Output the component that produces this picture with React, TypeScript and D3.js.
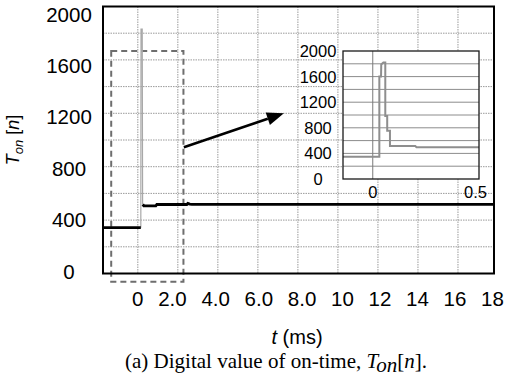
import React from 'react';
import * as d3 from 'd3';

// ---- data ----
const yTickValues = [0, 400, 800, 1200, 1600, 2000];
const yGridValues = [200, 400, 600, 800, 1000, 1200, 1400, 1600, 1800];
const xGridValues = [0, 2, 4, 6, 8, 10, 12, 14, 16];
const xTickLabels = ['0', '2.0', '4.0', '6.0', '8.0', '10', '12', '14', '16', '18'];
const insetYTicks = [0, 400, 800, 1200, 1600, 2000];
const insetYGrid = [200, 400, 600, 800, 1000, 1200, 1400, 1600, 1800];
const insetXTicks = [0, 0.5];

// main series (t in ms, value)
const mainBefore: [number, number][] = [[-1.74, 343], [0.15, 343]];
const mainSpike: [number, number][] = [[0.15, 343], [0.16, 1830], [0.22, 1830], [0.24, 518]];
const mainAfter: [number, number][] = [
  [0.25, 518], [0.3, 507], [0.9, 507], [0.95, 517], [2.45, 517], [2.5, 525], [2.6, 520], [2.7, 518], [17.8, 518],
];
// zoomed detail series
const insetSeries: [number, number][] = [
  [-0.14, 348], [0.031, 348], [0.031, 1600], [0.039, 1600], [0.04, 1790], [0.05, 1820], [0.059, 1820],
  [0.059, 985], [0.068, 985], [0.068, 755], [0.081, 755], [0.081, 515], [0.2, 515], [0.206, 495], [0.5, 495],
];
// annotation (data units of main chart)
const zoomBoxT = [-1.33, 2.28];
const zoomBoxV = [-61, 1667];
const arrowPts: [number, number][] = [[2.3, 945], [7.3, 1200]];

const W = 506, H = 390;
const M = { left: 103, right: 494, top: 6.5, bottom: 273.5 };
const INSET = { left: 343, top: 51, width: 136, height: 128 };

export default function App() {
  const x = d3.scaleLinear().domain([-1.74, 17.8]).range([M.left, M.right]);
  const y = d3.scaleLinear().domain([0, 2000]).range([M.bottom, M.top]);
  const yLabel = d3.scaleLinear().domain([0, 2000]).range([271, 14]);
  const line = d3.line<[number, number]>().x(d => x(d[0])).y(d => y(d[1]));

  const ix = d3.scaleLinear().domain([-0.14, 0.5]).range([INSET.left, INSET.left + INSET.width]);
  const iy = d3.scaleLinear().domain([0, 2000]).range([INSET.top + INSET.height, INSET.top]);
  const iline = d3.line<[number, number]>().x(d => ix(d[0])).y(d => iy(d[1]));

  const font = 'Liberation Sans, Arial, sans-serif';
  const serif = 'Liberation Serif, Times New Roman, serif';

  const a0 = arrowPts[0], a1 = arrowPts[1];
  const ax0 = x(a0[0]), ay0 = y(a0[1]), ax1 = x(a1[0]), ay1 = y(a1[1]);
  const ang = Math.atan2(ay1 - ay0, ax1 - ax0);
  const headL = 17, headW = 6.5;
  const bx = ax1 - headL * Math.cos(ang), by = ay1 - headL * Math.sin(ang);
  const head = `M${ax1},${ay1} L${bx + headW * Math.sin(ang)},${by - headW * Math.cos(ang)} L${bx - headW * Math.sin(ang)},${by + headW * Math.cos(ang)} Z`;

  const zeroW = 11.4;
  return (
    <svg width={W} height={H} style={{ position: 'absolute', left: 0, top: 0, background: '#fff' }}>
      <rect x={0} y={0} width={W} height={H} fill="#fff" />
      {/* gridlines */}
      {yGridValues.map(v => (
        <line key={'hy' + v} x1={M.left} x2={M.right} y1={y(v)} y2={y(v)} stroke="#9a9a9a" strokeWidth={1} strokeDasharray="1.5 1" />
      ))}
      {xGridValues.map(t => (
        <line key={'vx' + t} x1={x(t)} x2={x(t)} y1={M.top} y2={M.bottom} stroke="#9a9a9a" strokeWidth={1} strokeDasharray="1.5 1" />
      ))}
      {/* zoom box */}
      <rect x={x(zoomBoxT[0])} y={y(zoomBoxV[1])} width={x(zoomBoxT[1]) - x(zoomBoxT[0])} height={y(zoomBoxV[0]) - y(zoomBoxV[1])}
        fill="none" stroke="#6e6e6e" strokeWidth={2} strokeDasharray="6 4" />
      {/* data */}
      <path d={line(mainSpike) || ''} fill="none" stroke="#a8a8a8" strokeWidth={1.2} />
      <path d={line(mainBefore) || ''} fill="none" stroke="#000" strokeWidth={2.8} />
      <path d={line(mainAfter) || ''} fill="none" stroke="#000" strokeWidth={2.8} />
      {/* frame */}
      <rect x={M.left} y={M.top} width={M.right - M.left} height={M.bottom - M.top} fill="none" stroke="#000" strokeWidth={2} />
      {/* y tick labels */}
      {yTickValues.map(v => (
        <text key={'yl' + v} x={69} y={yLabel(v)} textAnchor="middle" dominantBaseline="central" fontFamily={font} fontSize={20.5} fill="#000">{v}</text>
      ))}
      {/* x tick labels laid out as a run of text */}
      <text x={x(0) - zeroW / 2} y={306} fontFamily={font} fontSize={20.5} fill="#000">
        {xTickLabels.map((l, i) => (
          <tspan key={l} dx={i === 0 ? 0 : 14.7}>{l}</tspan>
        ))}
      </text>
      {/* axis titles */}
      <text transform="translate(19,140) rotate(-90)" textAnchor="middle" fontFamily={font} fontSize={18} fill="#000">
        <tspan fontStyle="italic">T</tspan>
        <tspan fontStyle="italic" fontSize={13} dy={4}>on</tspan>
        <tspan dy={-4}>{' ['}</tspan>
        <tspan fontStyle="italic">n</tspan>
        <tspan>]</tspan>
      </text>
      <text x={297} y={344} textAnchor="middle" fontFamily={font} fontSize={20} fill="#000">
        <tspan fontStyle="italic">t</tspan>
        <tspan>{' (ms)'}</tspan>
      </text>
      <text x={276} y={368} textAnchor="middle" fontFamily={serif} fontSize={21} fill="#000">
        <tspan>{'(a) Digital value of on-time, '}</tspan>
        <tspan fontStyle="italic">T</tspan>
        <tspan fontStyle="italic" dy={4}>on</tspan>
        <tspan dy={-4}>[</tspan>
        <tspan fontStyle="italic">n</tspan>
        <tspan>].</tspan>
      </text>
      {/* inset */}
      <rect x={INSET.left} y={INSET.top} width={INSET.width} height={INSET.height} fill="#fff" />
      {insetYGrid.map(v => (
        <line key={'iy' + v} x1={INSET.left} x2={INSET.left + INSET.width} y1={iy(v)} y2={iy(v)} stroke="#8c8c8c" strokeWidth={1} />
      ))}
      <line x1={ix(0)} x2={ix(0)} y1={INSET.top} y2={INSET.top + INSET.height} stroke="#7a7a7a" strokeWidth={1} />
      <path d={iline(insetSeries) || ''} fill="none" stroke="#8e8e8e" strokeWidth={2} />
      <rect x={INSET.left} y={INSET.top} width={INSET.width} height={INSET.height} fill="none" stroke="#1a1a1a" strokeWidth={1.3} />
      {insetYTicks.map(v => (
        <text key={'iyl' + v} x={318} y={iy(v)} textAnchor="middle" dominantBaseline="central" fontFamily={font} fontSize={16.5} fill="#000">{v}</text>
      ))}
      {insetXTicks.map(t => (
        <text key={'ixl' + t} x={t === 0 ? ix(t) : ix(t) + 8} y={198} textAnchor={t === 0 ? 'middle' : 'end'} fontFamily={font} fontSize={16.5} fill="#000">{t}</text>
      ))}
      {/* arrow */}
      <line x1={ax0} y1={ay0} x2={bx} y2={by} stroke="#000" strokeWidth={2.6} />
      <path d={head} fill="#000" />
    </svg>
  );
}
